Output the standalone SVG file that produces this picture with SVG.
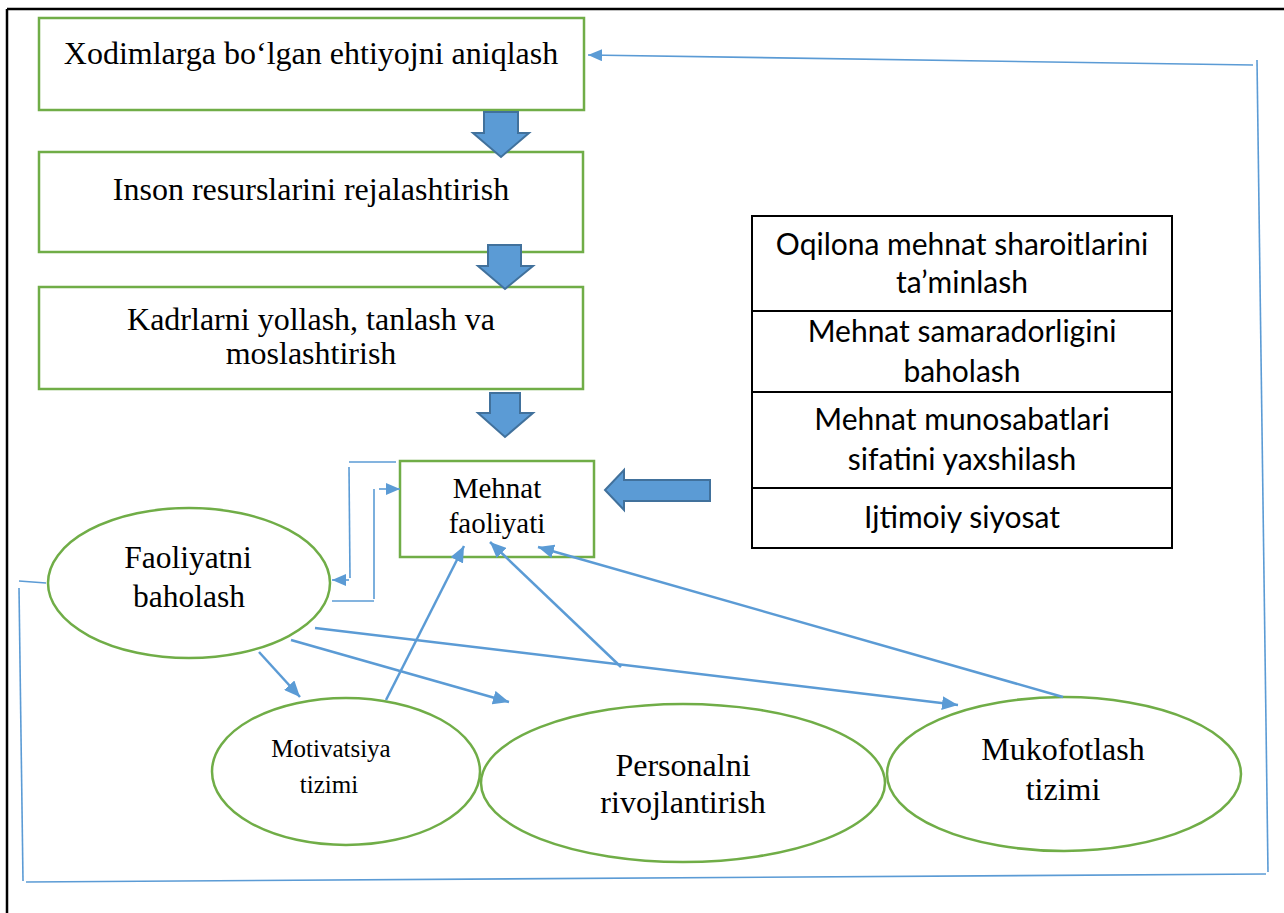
<svg xmlns="http://www.w3.org/2000/svg" width="1284" height="913" viewBox="0 0 1284 913">
<style>
.box{fill:#fff;stroke:#70AD47;stroke-width:2.5}
.ell{fill:#fff;stroke:#70AD47;stroke-width:2.5}
.ser{font-family:"Liberation Serif","Times New Roman",serif;fill:#000;text-anchor:middle}
.san{font-family:Lato,"Noto Sans",sans-serif;fill:#000;text-anchor:middle;font-size:30px}
.blk{fill:#5B9BD5;stroke:#41719C;stroke-width:2;stroke-linejoin:miter}
.con{fill:none;stroke:#5B9BD5;stroke-width:2.5}
.thin{fill:none;stroke:#5B9BD5;stroke-width:1.6}
.tbl{fill:#fff;stroke:#000;stroke-width:2}
</style>
<defs>
<marker id="ah" markerUnits="userSpaceOnUse" markerWidth="18" markerHeight="14" refX="16" refY="7" orient="auto">
<path d="M0,0 L16,7 L0,14 Z" fill="#5B9BD5"/>
</marker>
<marker id="ahs" markerUnits="userSpaceOnUse" markerWidth="16" markerHeight="12" refX="14" refY="6" orient="auto">
<path d="M0,0 L14,6 L0,12 Z" fill="#5B9BD5"/>
</marker>
</defs>
<rect width="1284" height="913" fill="#fff"/>
<g id="frame">
<line x1="7" y1="9" x2="1284" y2="9" stroke="#000" stroke-width="2.5"/>
<line x1="7" y1="9" x2="7" y2="913" stroke="#000" stroke-width="2.5"/>
</g>
<g id="node-xodim">
<rect class="box" x="39" y="18" width="545" height="92"/>
<text class="ser" x="311" y="64" font-size="32">Xodimlarga bo‘lgan ehtiyojni aniqlash</text>
</g>
<g id="node-inson">
<rect class="box" x="39" y="152" width="544" height="100"/>
<text class="ser" x="311" y="200" font-size="32">Inson resurslarini rejalashtirish</text>
</g>
<g id="node-kadr">
<rect class="box" x="39" y="287" width="544" height="102"/>
<text class="ser" x="311" y="330" font-size="32">Kadrlarni yollash, tanlash va</text>
<text class="ser" x="311" y="364" font-size="32">moslashtirish</text>
</g>
<g id="node-mehnat">
<rect class="box" x="400" y="461" width="194" height="96"/>
<text class="ser" x="497" y="498" font-size="29">Mehnat</text>
<text class="ser" x="497" y="533" font-size="29">faoliyati</text>
</g>
<g id="node-table">
<rect class="tbl" x="752" y="216" width="420" height="332"/>
<line x1="752" y1="311" x2="1172" y2="311" stroke="#000" stroke-width="2"/>
<line x1="752" y1="392" x2="1172" y2="392" stroke="#000" stroke-width="2"/>
<line x1="752" y1="488" x2="1172" y2="488" stroke="#000" stroke-width="2"/>
<text class="san" x="962" y="255">Oqilona mehnat sharoitlarini</text>
<text class="san" x="962" y="293">ta’minlash</text>
<text class="san" x="962" y="342">Mehnat samaradorligini</text>
<text class="san" x="962" y="382">baholash</text>
<text class="san" x="962" y="430">Mehnat munosabatlari</text>
<text class="san" x="962" y="470">sifatini yaxshilash</text>
<text class="san" x="962" y="528">Ijtimoiy siyosat</text>
</g>
<g id="node-faoliyatni">
<ellipse class="ell" cx="189" cy="583" rx="141" ry="75"/>
<text class="ser" x="188" y="568" font-size="31.5">Faoliyatni</text>
<text class="ser" x="189" y="607" font-size="31.5">baholash</text>
</g>
<g id="node-motivatsiya">
<ellipse class="ell" cx="346" cy="771.5" rx="134" ry="73.5"/>
<text class="ser" x="331" y="757" font-size="25">Motivatsiya</text>
<text class="ser" x="329" y="793" font-size="25">tizimi</text>
</g>
<g id="node-personalni">
<ellipse class="ell" cx="683" cy="783" rx="202" ry="79"/>
<text class="ser" x="683" y="776" font-size="32">Personalni</text>
<text class="ser" x="683" y="813" font-size="32">rivojlantirish</text>
</g>
<g id="node-mukofotlash">
<ellipse class="ell" cx="1064" cy="774" rx="177" ry="77"/>
<text class="ser" x="1063" y="760" font-size="32">Mukofotlash</text>
<text class="ser" x="1063" y="800" font-size="32">tizimi</text>
</g>
<g id="connectors">
<path class="blk" d="M484,112 H518 V133 H529 L501,157 L473,133 H484 Z"/>
<path class="blk" d="M488,245 H521 V266 H533 L505,289 L478,266 H488 Z"/>
<path class="blk" d="M490,393 H520 V413 H533 L505,437 L478,413 H490 Z"/>
<path class="blk" d="M710,480 V501 H624 V510 L605,490 L624,470 V480 Z"/>
<line class="thin" x1="46" y1="583" x2="19" y2="581"/>
<line class="thin" x1="19" y1="588" x2="23" y2="881"/>
<line class="thin" x1="26" y1="882" x2="1266" y2="874"/>
<line class="thin" x1="1268" y1="872" x2="1257" y2="60"/>
<line class="thin" x1="1253" y1="65" x2="588" y2="55" marker-end="url(#ahs)"/>
<line class="thin" x1="396" y1="462" x2="349" y2="462"/>
<line class="thin" x1="349" y1="467" x2="350" y2="578"/>
<line class="thin" x1="349" y1="580" x2="332" y2="580" marker-end="url(#ahs)"/>
<line class="thin" x1="332" y1="601" x2="374" y2="601"/>
<line class="thin" x1="374" y1="599" x2="374" y2="489"/>
<line class="thin" x1="379" y1="489" x2="400" y2="489" marker-end="url(#ahs)"/>
<line class="con" x1="259" y1="652" x2="300" y2="697" marker-end="url(#ah)"/>
<line class="con" x1="291" y1="640" x2="509" y2="702" marker-end="url(#ah)"/>
<line class="con" x1="315" y1="628" x2="958" y2="705" marker-end="url(#ah)"/>
<line class="con" x1="386" y1="700" x2="464" y2="546" marker-end="url(#ah)"/>
<line class="con" x1="621" y1="667" x2="490" y2="542" marker-end="url(#ah)"/>
<line class="con" x1="1063" y1="697" x2="538" y2="547" marker-end="url(#ah)"/>
</g>
</svg>
